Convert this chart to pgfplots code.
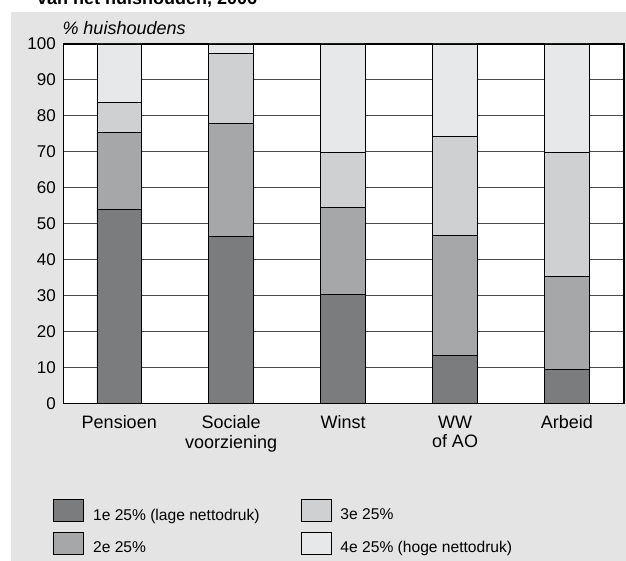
\documentclass[border=0pt]{standalone}
\usepackage{pgfplots}
\pgfplotsset{compat=1.18}
\usepackage{fontspec}
\setmainfont{Liberation Sans}

\definecolor{paneel}{HTML}{E3E4E3}
\definecolor{kw1}{HTML}{7B7C7E}
\definecolor{kw2}{HTML}{A6A7A9}
\definecolor{kw3}{HTML}{CFD0D2}
\definecolor{kw4}{HTML}{E7E8EA}

\begin{document}
\begin{tikzpicture}
\useasboundingbox (0pt,0pt) rectangle (626pt,-561pt);
\fill[paneel] (11pt,-12pt) rectangle (640pt,-580pt);
% afgesneden titel
\node[anchor=base west, inner sep=0, font=\bfseries\fontsize{18}{20}\selectfont]
  at (37pt,-5pt) {van het huishouden, 2006};

\begin{axis}[
  at={(63.3pt,-403.3pt)}, anchor=south west,
  scale only axis, width=560.7pt, height=359.3pt,
  ybar stacked, bar width=44.6pt,
  xmin=-0.5, xmax=4.51, ymin=0, ymax=100,
  xtick={0,1,2,3,4},
  xticklabels={Pensioen,{Sociale\\voorziening},Winst,{WW\\of AO},Arbeid},
  xticklabel style={align=center, font=\fontsize{18}{19.5}\selectfont, yshift=-9pt},
  ytick={0,10,...,100},
  yticklabel style={font=\fontsize{17}{20}\selectfont, xshift=-4pt},
  /pgf/number format/assume math mode=true,
  major tick length=0pt,
  ymajorgrids, grid style={black!70, line width=1.1pt},
  axis line style={line width=1.3pt},
  axis background/.style={fill=white},
  ylabel={\itshape \% huishoudens},
  every axis y label/.style={at={(axis description cs:0,1)}, anchor=base west,
    inner sep=0, yshift=9.7pt, xshift=-1pt, font=\fontsize{18}{20}\selectfont},
  legend columns=2, transpose legend,
  legend cell align=left,
  legend image code/.code={\draw[#1] (0pt,-6pt) rectangle (30pt,16pt);},
  legend style={at={(axis description cs:-0.0184,-0.265)}, anchor=north west,
    draw=none, fill=none, inner sep=0pt, row sep=8pt,
    font=\fontsize{15.6}{18}\selectfont,
    /tikz/every odd column/.append style={column sep=7pt},
    /tikz/every even column/.append style={column sep=39pt}},
]
\addplot[fill=kw1, draw=black, line width=0.9pt] coordinates {(0,54.0) (1,46.5) (2,30.4) (3,13.4) (4,9.5)};
\addlegendentry{1e 25\% (lage nettodruk)}
\addplot[fill=kw2, draw=black, line width=0.9pt] coordinates {(0,21.5) (1,31.3) (2,24.0) (3,33.2) (4,25.7)};
\addlegendentry{2e 25\%}
\addplot[fill=kw3, draw=black, line width=0.9pt] coordinates {(0,8.3) (1,19.6) (2,15.4) (3,27.7) (4,34.6)};
\addlegendentry{3e 25\%}
\addplot[fill=kw4, draw=black, line width=0.9pt] coordinates {(0,16.2) (1,2.6) (2,30.2) (3,25.7) (4,30.2)};
\addlegendentry{4e 25\% (hoge nettodruk)}
\end{axis}
\end{tikzpicture}
\end{document}
